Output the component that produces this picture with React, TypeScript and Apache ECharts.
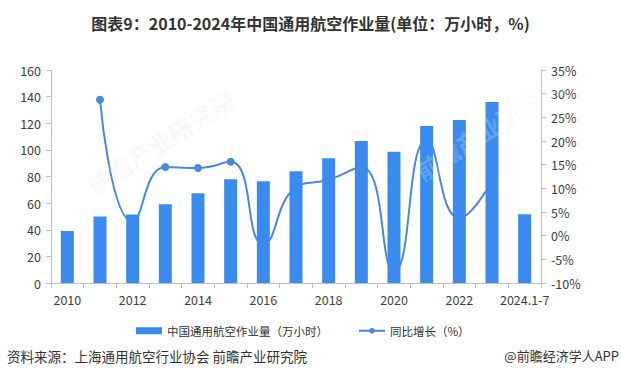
import React, { useEffect, useRef } from "react";
import * as echarts from "echarts";

const categories = ["2010", "2011", "2012", "2013", "2014", "2015", "2016", "2017", "2018", "2019", "2020", "2021", "2022", "2023", "2024.1-7"];
const hours = [39, 50, 51.5, 59.2, 67.5, 78, 76.5, 84, 93.7, 106.7, 98.5, 118, 122.5, 136, 51.7];
const growth = [null, 28.7, 3.0, 14.5, 14.3, 15.6, -1.8, 10.2, 11.8, 14.5, -7.6, 20.2, 3.7, 11.5, null];
const leftTicks = { min: 0, max: 160, interval: 20 };
const rightTicks = { min: -10, max: 35, interval: 5 };

const titleText = "图表9：2010-2024年中国通用航空作业量(单位：万小时，%)";
const barName = "中国通用航空作业量（万小时）";
const lineName = "同比增长（%）";
const sourceText = "资料来源：上海通用航空行业协会 前瞻产业研究院";
const brandText = "@前瞻经济学人APP";
const watermarkText = "前瞻产业研究院";

const FONT = "'Noto Sans CJK SC', 'Noto Sans', sans-serif";

export default function App() {
  const ref = useRef<HTMLDivElement>(null);
  useEffect(() => {
    if (!ref.current) return;
    const chart = echarts.init(ref.current, null, { renderer: "svg" });
    const axisLineColor = "#bfbfbf";
    const labelColor = "#404040";
    chart.setOption({
      animation: false,
      textStyle: { fontFamily: FONT },
      title: {
        text: titleText,
        left: "center",
        top: 10,
        textStyle: { fontSize: 16, fontWeight: "bold", color: "#333", fontFamily: FONT },
      },
      grid: { left: 51, right: 80, top: 70, bottom: 95, containLabel: false },
      legend: {
        left: 131,
        top: 320,
        itemGap: 30,
        itemWidth: 26,
        itemHeight: 7,
        textStyle: { fontSize: 11.5, color: "#333", fontFamily: FONT },
        data: [
          { name: barName, icon: "rect" },
          { name: lineName },
        ],
      },
      xAxis: {
        type: "category",
        data: categories,
        boundaryGap: true,
        axisLine: { show: true, lineStyle: { color: axisLineColor } },
        axisTick: { show: true, interval: 0, length: 5, lineStyle: { color: axisLineColor } },
        axisLabel: { interval: 1, color: labelColor, fontSize: 12.5, margin: 10, fontFamily: FONT },
        splitLine: { show: false },
      },
      yAxis: [
        {
          type: "value",
          min: leftTicks.min,
          max: leftTicks.max,
          interval: leftTicks.interval,
          axisLine: { show: true, lineStyle: { color: axisLineColor } },
          axisTick: { show: true, length: 5, lineStyle: { color: axisLineColor } },
          axisLabel: { color: labelColor, fontSize: 12.5, margin: 10, fontFamily: FONT },
          splitLine: { show: false },
        },
        {
          type: "value",
          min: rightTicks.min,
          max: rightTicks.max,
          interval: rightTicks.interval,
          axisLine: { show: true, lineStyle: { color: axisLineColor } },
          axisTick: { show: true, length: 5, lineStyle: { color: axisLineColor } },
          axisLabel: { color: labelColor, fontSize: 12.5, margin: 10, formatter: "{value}%", fontFamily: FONT },
          splitLine: { show: false },
        },
      ],
      series: [
        {
          name: lineName,
          type: "line",
          yAxisIndex: 1,
          data: growth,
          smooth: true,
          connectNulls: false,
          symbol: "circle",
          symbolSize: 8,
          showAllSymbol: true,
          z: 1,
          lineStyle: { width: 2, color: "#4A88DC" },
          itemStyle: { color: "#4A88DC" },
        },
        {
          name: barName,
          type: "bar",
          yAxisIndex: 0,
          data: hours,
          barWidth: 13,
          z: 3,
          itemStyle: { color: "#3B8BEF" },
        },
      ],
      graphic: [
        {
          type: "text",
          x: 160,
          y: 142,
          rotation: 0.57,
          z: 100,
          style: {
            text: watermarkText,
            fontSize: 24,
            fontWeight: "bold",
            fontFamily: FONT,
            fill: "rgba(225,225,225,0.2)",
            align: "center",
            verticalAlign: "middle",
          },
        },
        {
          type: "text",
          x: 488,
          y: 128,
          rotation: 0.57,
          z: 100,
          style: {
            text: watermarkText,
            fontSize: 24,
            fontWeight: "bold",
            fontFamily: FONT,
            fill: "rgba(240,240,240,0.22)",
            align: "center",
            verticalAlign: "middle",
          },
        },
        {
          type: "text",
          left: 7,
          top: 349,
          style: { text: sourceText, fontSize: 13.5, fill: "#333", fontFamily: FONT },
        },
        {
          type: "text",
          right: 2,
          top: 349,
          style: { text: brandText, fontSize: 13, fill: "#333", fontFamily: FONT },
        },
      ],
    });
    return () => chart.dispose();
  }, []);
  return (
    <div
      ref={ref}
      style={{ position: "fixed", left: 0, top: 0, width: 621, height: 378, background: "#fff" }}
    />
  );
}
